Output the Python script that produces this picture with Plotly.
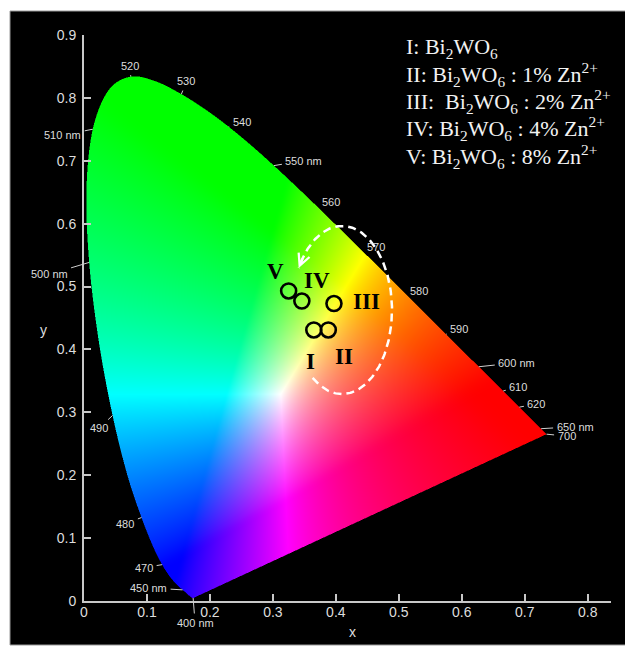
import numpy as np
import plotly.graph_objects as go

# ---------------- data ----------------
# CIE 1931 2-degree spectral locus (chromaticity coordinates)
WAVELENGTH = [380, 385, 390, 395, 400, 405, 410, 415, 420, 425, 430, 435, 440, 445,
              450, 455, 460, 465, 470, 475, 480, 485, 490, 495, 500, 505, 510, 515,
              520, 525, 530, 535, 540, 545, 550, 555, 560, 565, 570, 575, 580, 585,
              590, 595, 600, 605, 610, 615, 620, 625, 630, 635, 640, 645, 650, 655,
              660, 665, 670, 675, 680, 690, 700]
LOCUS_X = [0.1741, 0.1740, 0.1738, 0.1736, 0.1733, 0.1730, 0.1726, 0.1721, 0.1714,
           0.1703, 0.1689, 0.1669, 0.1644, 0.1611, 0.1566, 0.1510, 0.1440, 0.1355,
           0.1241, 0.1096, 0.0913, 0.0687, 0.0454, 0.0235, 0.0082, 0.0039, 0.0139,
           0.0389, 0.0743, 0.1142, 0.1547, 0.1929, 0.2296, 0.2658, 0.3016, 0.3373,
           0.3731, 0.4087, 0.4441, 0.4788, 0.5125, 0.5448, 0.5752, 0.6029, 0.6270,
           0.6482, 0.6658, 0.6801, 0.6915, 0.7006, 0.7079, 0.7140, 0.7190, 0.7230,
           0.7260, 0.7283, 0.7300, 0.7311, 0.7320, 0.7327, 0.7334, 0.7344, 0.7347]
LOCUS_Y = [0.0050, 0.0050, 0.0049, 0.0049, 0.0048, 0.0048, 0.0048, 0.0048, 0.0051,
           0.0058, 0.0069, 0.0086, 0.0109, 0.0138, 0.0177, 0.0227, 0.0297, 0.0399,
           0.0578, 0.0868, 0.1327, 0.2007, 0.2950, 0.4127, 0.5384, 0.6548, 0.7502,
           0.8120, 0.8338, 0.8262, 0.8059, 0.7816, 0.7543, 0.7243, 0.6923, 0.6589,
           0.6245, 0.5896, 0.5547, 0.5202, 0.4866, 0.4544, 0.4242, 0.3965, 0.3725,
           0.3514, 0.3340, 0.3197, 0.3083, 0.2993, 0.2920, 0.2859, 0.2809, 0.2770,
           0.2740, 0.2717, 0.2700, 0.2689, 0.2680, 0.2673, 0.2666, 0.2656, 0.2653]

# measured samples
SAMPLE_NAMES = ["I", "II", "III", "IV", "V"]
SAMPLE_X = [0.365, 0.388, 0.397, 0.346, 0.325]
SAMPLE_Y = [0.431, 0.431, 0.473, 0.477, 0.493]

# wavelength labels on the locus
LABEL_WL = [400, 450, 470, 480, 490, 500, 510, 520, 530, 540, 550, 560, 570, 580,
            590, 600, 610, 620, 650, 700]
LABEL_TEXT = ["400 nm", "450 nm", "470", "480", "490", "500 nm", "510 nm", "520",
              "530", "540", "550 nm", "560", "570", "580", "590", "600 nm", "610",
              "620", "650 nm", "700"]

LEGEND_LINES = [
    "I: Bi<sub>2</sub>WO<sub>6</sub>",
    "II: Bi<sub>2</sub>WO<sub>6</sub> : 1% Zn<sup>2+</sup>",
    "III:  Bi<sub>2</sub>WO<sub>6</sub> : 2% Zn<sup>2+</sup>",
    "IV: Bi<sub>2</sub>WO<sub>6</sub> : 4% Zn<sup>2+</sup>",
    "V: Bi<sub>2</sub>WO<sub>6</sub> : 8% Zn<sup>2+</sup>",
]

X_TICKS = [0, 0.1, 0.2, 0.3, 0.4, 0.5, 0.6, 0.7, 0.8]
X_TICK_TEXT = ["0", "0.1", "0.2", "0.3", "0.4", "0.5", "0.6", "0.7", "0.8"]
Y_TICKS = [0, 0.1, 0.2, 0.3, 0.4, 0.5, 0.6, 0.7, 0.8, 0.9]
Y_TICK_TEXT = ["0", "0.1", "0.2", "0.3", "0.4", "0.5", "0.6", "0.7", "0.8", "0.9"]

# ---------------- layout constants ----------------
W, H = 625, 647
ML, MR, MT, MB = 84, 14, 35, 46
XR = [0, 0.837]
YR = [0, 0.9]
PW, PH = W - ML - MR, H - MT - MB
DX = (XR[1] - XR[0]) / PW
DY = (YR[1] - YR[0]) / PH


def to_paper_x(px):
    return (px - ML) / PW


def to_paper_y(py):
    return (H - MB - py) / PH


# ---------------- chromaticity image ----------------
def smooth_outline(xs, ys, sub=10):
    """Catmull-Rom rendering of the locus outline (drawing only)."""
    P = np.column_stack([xs, ys])
    n = len(P)
    out = []
    for i in range(n - 1):
        p0 = P[max(i - 1, 0)]
        p1 = P[i]
        p2 = P[i + 1]
        p3 = P[min(i + 2, n - 1)]
        for t in np.linspace(0, 1, sub, endpoint=False):
            out.append(0.5 * (2 * p1 + (-p0 + p2) * t + (2 * p0 - 5 * p1 + 4 * p2 - p3) * t * t
                              + (-p0 + 3 * p1 - 3 * p2 + p3) * t ** 3))
    out.append(P[-1])
    out = np.array(out)
    return out[:, 0], out[:, 1]


vx, vy = smooth_outline(LOCUS_X, LOCUS_Y)


def inside(px, py):
    res = np.zeros(px.shape, dtype=bool)
    n = len(vx)
    j = n - 1
    for i in range(n):
        xi, yi, xj, yj = vx[i], vy[i], vx[j], vy[j]
        if yi != yj:
            cond = (yi > py) != (yj > py)
            xint = (xj - xi) * (py - yi) / (yj - yi) + xi
            res ^= cond & (px < xint)
        j = i
    return res


nx = int(0.745 / DX) + 1
ny = int(0.845 / DY) + 1
xc = (np.arange(nx) + 0.5) * DX
yc = (np.arange(ny) + 0.5) * DY
XG, YG = np.meshgrid(xc, yc)

ss = 2
cov = np.zeros(XG.shape)
for a in range(ss):
    for b in range(ss):
        ox = ((a + 0.5) / ss - 0.5) * DX
        oy = ((b + 0.5) / ss - 0.5) * DY
        cov += inside(XG + ox, YG + oy)
cov /= ss * ss

yy = np.maximum(YG, 1e-4)
Xv = XG / yy
Zv = (1 - XG - YG) / yy
r = 3.2406 * Xv - 1.5372 - 0.4986 * Zv
g = -0.9689 * Xv + 1.8758 + 0.0415 * Zv
bl = 0.0557 * Xv - 0.2040 + 1.0570 * Zv
rgb = np.clip(np.stack([r, g, bl], axis=-1), 0, None)
mx = rgb.max(axis=-1, keepdims=True)
mx[mx == 0] = 1
rgb = (rgb / mx) ** 1.8
rgb = np.where(rgb <= 0.0031308, 12.92 * rgb, 1.055 * np.power(rgb, 1 / 2.4) - 0.055)
rgb = rgb * cov[..., None]
img = np.clip(np.round(rgb * 255), 0, 255).astype(np.uint8)

fig = go.Figure()
fig.add_trace(go.Image(z=img.tolist(), x0=DX / 2, dx=DX, y0=DY / 2, dy=DY,
                       colormodel="rgb", hoverinfo="skip"))

# ellipse arrow (dashed)
ecx, ecy = (342 - ML) / 629.6, (H - MB - 310) / 628.9
erx, ery = 50 / 629.6, 84 / 628.9
tt = np.radians(np.linspace(-126, 150, 220))
fig.add_trace(go.Scatter(x=ecx + erx * np.cos(tt), y=ecy + ery * np.sin(tt),
                         mode="lines", line=dict(color="white", width=2.5, dash="8px,5px"),
                         hoverinfo="skip", showlegend=False))

# samples
fig.add_trace(go.Scatter(x=SAMPLE_X, y=SAMPLE_Y, mode="markers",
                         marker=dict(symbol="circle-open", size=15, color="black",
                                     line=dict(width=2.6, color="black")),
                         showlegend=False, hoverinfo="skip"))

annotations = []

# arrow head of ellipse
t_end, t_prev = np.radians(150), np.radians(141)
annotations.append(dict(x=ecx + erx * np.cos(t_end), y=ecy + ery * np.sin(t_end),
                        ax=ecx + erx * np.cos(t_prev), ay=ecy + ery * np.sin(t_prev),
                        xref="x", yref="y", axref="x", ayref="y", text="",
                        showarrow=True, arrowhead=5, arrowsize=1, arrowwidth=2.3,
                        arrowcolor="white"))

# sample labels
label_offsets = [(-3, 32), (16, 27), (33, -2), (15, -21), (-13, -19)]
for nm, sx, sy, (ox, oy) in zip(SAMPLE_NAMES, SAMPLE_X, SAMPLE_Y, label_offsets):
    annotations.append(dict(x=sx, y=sy, xref="x", yref="y", text="<b>" + nm + "</b>",
                            showarrow=False, xshift=ox, yshift=-oy,
                            font=dict(family="Liberation Serif", size=23, color="black")))

# wavelength labels
wl_offsets = {400: (2, 25), 450: (-34, -2), 470: (-18, 3), 480: (-16, 6), 490: (-14, 13),
              500: (-40, 12), 510: (-30, 6), 520: (-1, -11), 530: (5, -13), 540: (13, -5),
              550: (30, -5), 560: (12, -6), 570: (12, -5), 580: (12, -4), 590: (13, -5),
              600: (38, -4), 610: (15, -4), 620: (17, -3), 650: (34, -2), 700: (20, 2)}
for w_, txt in zip(LABEL_WL, LABEL_TEXT):
    k = WAVELENGTH.index(w_)
    ox, oy = wl_offsets[w_]
    annotations.append(dict(x=LOCUS_X[k], y=LOCUS_Y[k], xref="x", yref="y", text=txt,
                            showarrow=True, arrowhead=0, arrowwidth=1, arrowcolor="#cfcfcf",
                            ax=ox, ay=oy, startstandoff=2, standoff=0,
                            font=dict(family="Liberation Sans", size=11, color="#dddddd")))

# legend text
legend_py = [48, 75, 102, 129, 156]
for line, py in zip(LEGEND_LINES, legend_py):
    annotations.append(dict(x=to_paper_x(404), y=to_paper_y(py), xref="paper", yref="paper",
                            text=line, showarrow=False, xanchor="left", yanchor="middle",
                            font=dict(family="Liberation Serif", size=22, color="#f2f2f2")))

# axis titles
annotations.append(dict(x=to_paper_x(353), y=to_paper_y(632), xref="paper", yref="paper",
                        text="x", showarrow=False, xanchor="center", yanchor="middle",
                        font=dict(family="Liberation Sans", size=14, color="#dddddd")))
annotations.append(dict(x=to_paper_x(43), y=to_paper_y(330), xref="paper", yref="paper",
                        text="y", showarrow=False, xanchor="center", yanchor="middle",
                        font=dict(family="Liberation Sans", size=14, color="#dddddd")))

shapes = [dict(type="rect", xref="paper", yref="paper", layer="below",
               x0=to_paper_x(10), x1=to_paper_x(626), y0=to_paper_y(645), y1=to_paper_y(11),
               fillcolor="black", line=dict(color="#9a9a9a", width=1))]

axis_common = dict(showgrid=False, zeroline=False, showline=True, linecolor="#c8c8c8",
                   linewidth=2, ticks="inside", ticklen=7, tickwidth=1.5, tickcolor="#c8c8c8",
                   tickfont=dict(family="Liberation Sans", size=14, color="#dddddd"))

fig.update_layout(
    width=W, height=H, margin=dict(l=ML, r=MR, t=MT, b=MB, pad=0),
    paper_bgcolor="white", plot_bgcolor="black",
    xaxis=dict(range=XR, tickvals=X_TICKS, ticktext=X_TICK_TEXT, ticklabelstandoff=-3,
               **axis_common),
    yaxis=dict(range=YR, tickvals=Y_TICKS, ticktext=Y_TICK_TEXT, ticklabelstandoff=3,
               scaleanchor=False, **axis_common),
    annotations=annotations, shapes=shapes, showlegend=False,
)

fig.write_html("out.html")
